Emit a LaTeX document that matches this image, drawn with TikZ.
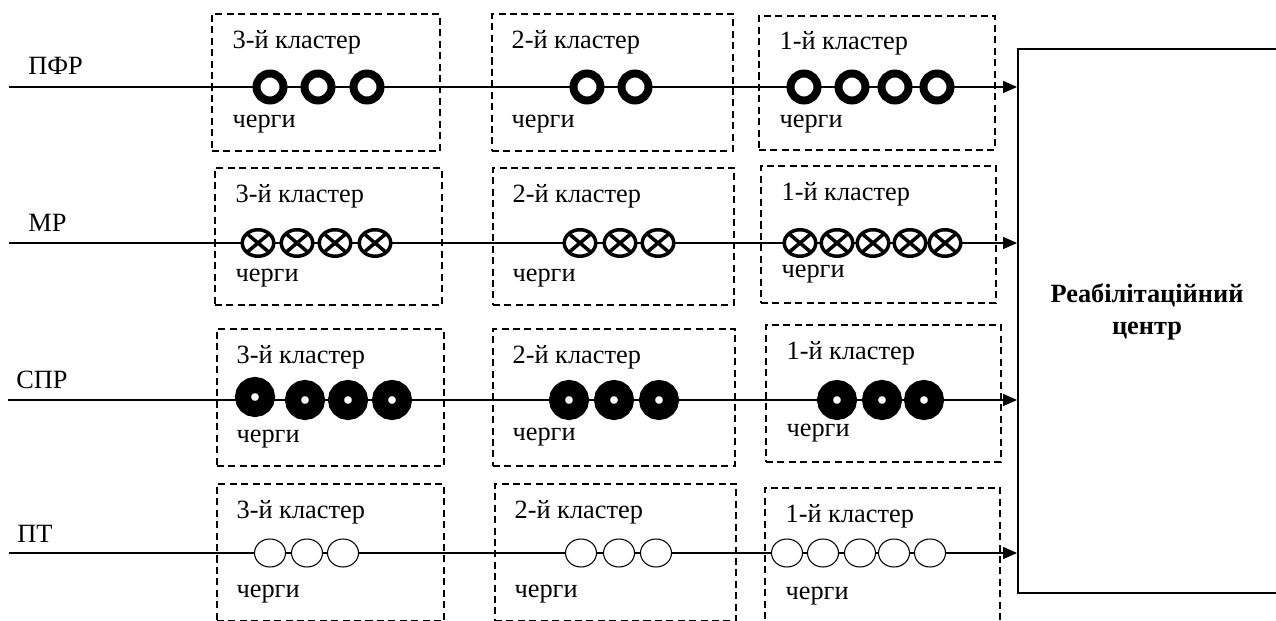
\documentclass[tikz,border=0pt]{standalone}
\usepackage{fontspec}
\setmainfont{Liberation Serif}
\usetikzlibrary{shapes.geometric, arrows.meta}

\tikzset{
  every node/.style={font=\fontsize{15}{18}\selectfont},
  cluster/.style={draw, line width=0.9pt, dash pattern=on 4pt off 2.5pt, minimum height=2.74cm, inner sep=0pt},
  lbl/.style={anchor=base west, inner sep=0pt},
  feed/.style={line width=0.8pt, -{Triangle[length=0.28cm, width=0.24cm]}},
  ringq/.style={circle, draw, fill=white, line width=0.16cm, minimum size=0.54cm, inner sep=0pt},
  crossq/.style={ellipse, draw, fill=white, line width=2pt, minimum width=0.63cm, minimum height=0.53cm, inner sep=0pt,
    path picture={\draw[line width=2pt] (path picture bounding box.north west) -- (path picture bounding box.south east)
      (path picture bounding box.south west) -- (path picture bounding box.north east);}},
  diskq/.style={circle, draw, fill=white, line width=0.32cm, minimum size=0.48cm, inner sep=0pt},
  openq/.style={ellipse, draw, fill=white, line width=0.6pt, minimum width=0.62cm, minimum height=0.56cm, inner sep=0pt}
}

\begin{document}
\begin{tikzpicture}[x=0.02cm, y=-0.02cm]
        \useasboundingbox (0,0) rectangle (1276,621);

        % Rehabilitation centre
        \node (rc) [draw, line width=1.1pt, minimum width=5.22cm, minimum height=10.88cm, inner sep=0pt] at (1148.5,321) {};
        \node (rct) [align=center, font=\fontsize{15}{18}\selectfont\bfseries] at (1147,312) {Реабілітаційний\\центр};

        % Clusters
        \node (pfr3) [cluster, minimum width=4.56cm] at (326,82.5) {};
        \node (pfr2) [cluster, minimum width=4.82cm] at (612.5,82.5) {};
        \node (pfr1) [cluster, minimum width=4.72cm, minimum height=2.68cm] at (877,83) {};
        \node (mr3) [cluster, minimum width=4.54cm] at (328.5,236.5) {};
        \node (mr2) [cluster, minimum width=4.82cm] at (613.5,236.5) {};
        \node (mr1) [cluster, minimum width=4.70cm] at (878.5,234.5) {};
        \node (spr3) [cluster, minimum width=4.54cm] at (330.5,397.5) {};
        \node (spr2) [cluster, minimum width=4.84cm] at (614,397.5) {};
        \node (spr1) [cluster, minimum width=4.70cm] at (883.5,393.5) {};
        \node (pt3) [cluster, minimum width=4.54cm] at (330.5,552.5) {};
        \node (pt2) [cluster, minimum width=4.82cm] at (615.5,552.5) {};
        \node (pt1) [cluster, minimum width=4.70cm] at (882.5,556.5) {};

        % Cluster labels
        \node (pfr3t) [lbl] at ([shift={(21,35)}]pfr3.north west) {3-й кластер};
        \node (pfr3q) [lbl] at ([shift={(21,114)}]pfr3.north west) {черги};
        \node (pfr2t) [lbl] at ([shift={(20,35)}]pfr2.north west) {2-й кластер};
        \node (pfr2q) [lbl] at ([shift={(20,114)}]pfr2.north west) {черги};
        \node (pfr1t) [lbl] at ([shift={(21,34)}]pfr1.north west) {1-й кластер};
        \node (pfr1q) [lbl] at ([shift={(21,112)}]pfr1.north west) {черги};
        \node (mr3t) [lbl] at ([shift={(21,35)}]mr3.north west) {3-й кластер};
        \node (mr3q) [lbl] at ([shift={(21,114)}]mr3.north west) {черги};
        \node (mr2t) [lbl] at ([shift={(20,35)}]mr2.north west) {2-й кластер};
        \node (mr2q) [lbl] at ([shift={(20,114)}]mr2.north west) {черги};
        \node (mr1t) [lbl] at ([shift={(21,35)}]mr1.north west) {1-й кластер};
        \node (mr1q) [lbl] at ([shift={(21,112)}]mr1.north west) {черги};
        \node (spr3t) [lbl] at ([shift={(20,35)}]spr3.north west) {3-й кластер};
        \node (spr3q) [lbl] at ([shift={(20,114)}]spr3.north west) {черги};
        \node (spr2t) [lbl] at ([shift={(20,35)}]spr2.north west) {2-й кластер};
        \node (spr2q) [lbl] at ([shift={(20,112)}]spr2.north west) {черги};
        \node (spr1t) [lbl] at ([shift={(21,35)}]spr1.north west) {1-й кластер};
        \node (spr1q) [lbl] at ([shift={(21,112)}]spr1.north west) {черги};
        \node (pt3t) [lbl] at ([shift={(20,35)}]pt3.north west) {3-й кластер};
        \node (pt3q) [lbl] at ([shift={(20,114)}]pt3.north west) {черги};
        \node (pt2t) [lbl] at ([shift={(20,35)}]pt2.north west) {2-й кластер};
        \node (pt2q) [lbl] at ([shift={(20,114)}]pt2.north west) {черги};
        \node (pt1t) [lbl] at ([shift={(21,35)}]pt1.north west) {1-й кластер};
        \node (pt1q) [lbl] at ([shift={(21,112)}]pt1.north west) {черги};

        % Flows
        \node (pfrtag) [lbl] at (28,75) {ПФР};
        \node (mrtag) [lbl] at (28,232) {МР};
        \node (sprtag) [lbl] at (16,389) {СПР};
        \node (pttag) [lbl] at (17,543) {ПТ};
        \coordinate (pfr0) at (9,87);
        \coordinate (mr0) at (9,243);
        \coordinate (spr0) at (8,400);
        \coordinate (pt0) at (9,553);
        \draw[feed] (pfr0) -- (pfr0 -| rc.west);
        \draw[feed] (mr0) -- (mr0 -| rc.west);
        \draw[feed] (spr0) -- (spr0 -| rc.west);
        \draw[feed] (pt0) -- (pt0 -| rc.west);

        % Queues of ПФР
        \node (pfr3a) [ringq] at (270,87) {};
        \node (pfr3b) [ringq] at (318,87) {};
        \node (pfr3c) [ringq] at (367,87) {};
        \node (pfr2a) [ringq] at (587,87) {};
        \node (pfr2b) [ringq] at (635,87) {};
        \node (pfr1a) [ringq] at (804,87) {};
        \node (pfr1b) [ringq] at (852,87) {};
        \node (pfr1c) [ringq] at (895,87) {};
        \node (pfr1d) [ringq] at (937,87) {};

        % Queues of МР
        \node (mr3a) [crossq] at (258,243) {};
        \node (mr3b) [crossq] at (297,243) {};
        \node (mr3c) [crossq] at (335,243) {};
        \node (mr3d) [crossq] at (375,243) {};
        \node (mr2a) [crossq] at (580,243) {};
        \node (mr2b) [crossq] at (620,243) {};
        \node (mr2c) [crossq] at (658,243) {};
        \node (mr1a) [crossq] at (800,243) {};
        \node (mr1b) [crossq] at (837,243) {};
        \node (mr1c) [crossq] at (873,243) {};
        \node (mr1d) [crossq] at (910,243) {};
        \node (mr1e) [crossq] at (945,243) {};

        % Queues of СПР
        \node (spr3a) [diskq] at (255,397) {};
        \node (spr3b) [diskq] at (305,400) {};
        \node (spr3c) [diskq] at (348,400) {};
        \node (spr3d) [diskq] at (392,400) {};
        \node (spr2a) [diskq] at (569,400) {};
        \node (spr2b) [diskq] at (614,400) {};
        \node (spr2c) [diskq] at (659,400) {};
        \node (spr1a) [diskq] at (837,400) {};
        \node (spr1b) [diskq] at (882,400) {};
        \node (spr1c) [diskq] at (924,400) {};

        % Queues of ПТ
        \node (pt3a) [openq] at (270,553) {};
        \node (pt3b) [openq] at (307,553) {};
        \node (pt3c) [openq] at (343,553) {};
        \node (pt2a) [openq] at (581,553) {};
        \node (pt2b) [openq] at (619,553) {};
        \node (pt2c) [openq] at (656,553) {};
        \node (pt1a) [openq] at (787,553) {};
        \node (pt1b) [openq] at (823,553) {};
        \node (pt1c) [openq] at (860,553) {};
        \node (pt1d) [openq] at (894,553) {};
        \node (pt1e) [openq] at (930,553) {};

    \end{tikzpicture}
\end{document}
